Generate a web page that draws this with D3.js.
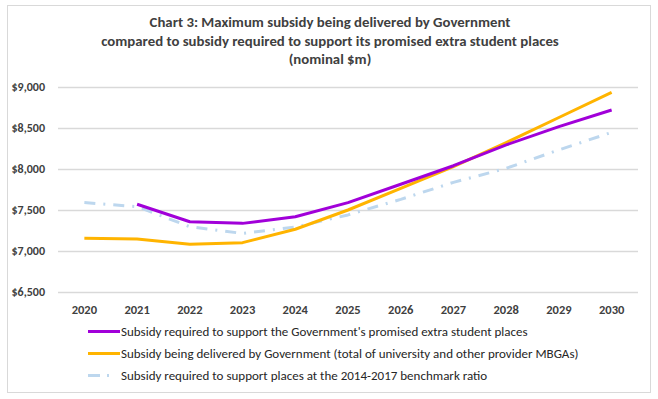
<!DOCTYPE html>
<html>
<head>
<meta charset="utf-8">
<script src="https://cdn.jsdelivr.net/npm/d3@7"></script>
<style>
  body { margin: 0; background: #fff; }
  svg text { font-family: Carlito, "Liberation Sans Narrow", "DejaVu Sans Condensed", sans-serif; }
</style>
</head>
<body>
<div id="chart"></div>
<script>
const years = ["2020","2021","2022","2023","2024","2025","2026","2027","2028","2029","2030"];
const promised = [null, 7570, 7357, 7337, 7418, 7590, 7814, 8040, 8294, 8516, 8720];
const delivered = [7155, 7147, 7082, 7102, 7265, 7500, 7765, 8030, 8322, 8628, 8935];
const benchmark = [7590, 7541, 7296, 7214, 7292, 7440, 7630, 7837, 8008, 8233, 8447];
const yTicks = [6500, 7000, 7500, 8000, 8500, 9000];
const titleLines = [
    "Chart 3: Maximum subsidy being delivered by Government",
    "compared to subsidy required to support its promised extra student places",
    "(nominal $m)"
];
const seriesNames = [
    "Subsidy required to support the Government's promised extra student places",
    "Subsidy being delivered by Government (total of university and other provider MBGAs)",
    "Subsidy required to support places at the 2014-2017 benchmark ratio"
];

const width = 658, height = 399;
const margin = { top: 87, right: 20, bottom: 107, left: 58 };

const svg = d3.select('#chart').append('svg')
    .attr('width', width)
    .attr('height', height);

// chart frame
svg.append('rect')
    .attr('x', 7.5).attr('y', 5.5)
    .attr('width', 643).attr('height', 387)
    .attr('fill', '#fff')
    .attr('stroke', '#d9d9d9');

svg.selectAll('.title')
    .data(titleLines)
    .enter().append('text')
    .attr('class', 'title')
    .attr('x', 330)
    .attr('y', (d, i) => 27 + i * 18.5)
    .attr('text-anchor', 'middle')
    .attr('font-size', '14.8px')
    .attr('font-weight', 'bold')
    .attr('fill', '#404040')
    .text(d => d);

const x = d3.scaleBand()
    .domain(years)
    .range([margin.left, 638]);

const y = d3.scaleLinear()
    .domain([6500, 9000])
    .range([292, 87]);

// gridlines
svg.append('g')
    .selectAll('line')
    .data(yTicks)
    .enter().append('line')
    .attr('x1', x.range()[0])
    .attr('x2', x.range()[1])
    .attr('y1', d => Math.round(y(d)) + 0.5)
    .attr('y2', d => Math.round(y(d)) + 0.5)
    .attr('stroke', '#d9d9d9')
    .attr('stroke-width', 1.3);

const yAxis = svg.append('g')
    .attr('transform', 'translate(' + (margin.left - 10) + ',0)')
    .call(d3.axisLeft(y).tickValues(yTicks).tickSize(0).tickFormat(d => '$' + d3.format(',')(d)));
yAxis.select('.domain').remove();
yAxis.selectAll('text')
    .attr('font-size', '12px')
    .attr('font-weight', 'bold')
    .attr('fill', '#404040');

const xAxis = svg.append('g')
    .attr('transform', 'translate(0,' + 302 + ')')
    .call(d3.axisBottom(x).tickSize(0));
xAxis.select('.domain').remove();
xAxis.selectAll('text')
    .attr('font-size', '12.5px')
    .attr('font-weight', 'bold')
    .attr('fill', '#404040');

const cx = d => x(d) + x.bandwidth() / 2;

const line = d3.line()
    .defined(d => d.v !== null)
    .x(d => cx(d.year))
    .y(d => y(d.v));

const series = [
    { name: seriesNames[0], values: promised, color: '#a100d9', dash: null },
    { name: seriesNames[1], values: delivered, color: '#ffb400', dash: null },
    { name: seriesNames[2], values: benchmark, color: '#bdd7ee', dash: '11,8,2,8' }
];

// draw the benchmark first so the solid lines sit on top
[series[2], series[1], series[0]].forEach(s => {
    svg.append('path')
        .datum(years.map((yr, i) => ({ year: yr, v: s.values[i] })))
        .attr('d', line)
        .attr('fill', 'none')
        .attr('stroke', s.color)
        .attr('stroke-width', 3)
        .attr('stroke-linejoin', 'round')
        .attr('stroke-dasharray', s.dash);
});

const legend = svg.selectAll('.legend')
    .data(series)
    .enter().append('g')
    .attr('class', 'legend')
    .attr('transform', (d, i) => 'translate(88,' + (331.5 + i * 22) + ')');

legend.append('line')
    .attr('x1', 0).attr('x2', 32)
    .attr('y1', 0).attr('y2', 0)
    .attr('stroke', d => d.color)
    .attr('stroke-width', 3)
    .attr('stroke-dasharray', d => d.dash ? '12,7,2,20' : null);

legend.append('text')
    .attr('x', 33)
    .attr('y', 0)
    .attr('dy', '0.35em')
    .attr('font-size', '13px')
    .attr('fill', '#262626')
    .text(d => d.name);
</script>
</body>
</html>
